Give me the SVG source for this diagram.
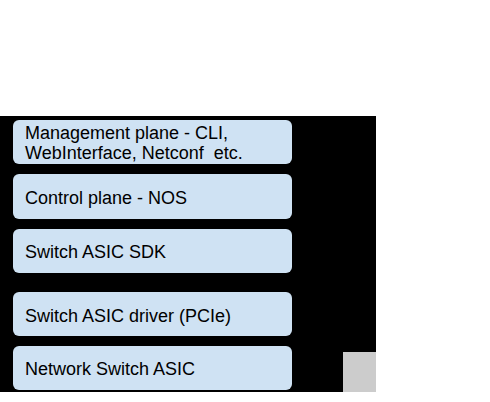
<svg xmlns="http://www.w3.org/2000/svg" width="490" height="402" viewBox="0 0 490 402">
<style>
.box{fill:#cfe2f3;}
.t{font-family:"Liberation Sans",Arial,sans-serif;font-size:18px;fill:#000;white-space:pre;}
</style>
<rect x="0" y="0" width="490" height="402" fill="#ffffff"/>
<rect x="0" y="116" width="376" height="276" fill="#000000"/>
<rect x="343" y="352" width="33" height="40" fill="#cccccc"/>
<g id="mgmt"><rect class="box" x="13" y="120" width="279" height="44" rx="6"/><text class="t" x="25" y="139">Management plane - CLI,</text><text class="t" x="25" y="159" xml:space="preserve">WebInterface, Netconf&#160; etc.</text></g>
<g id="control"><rect class="box" x="13" y="174" width="279" height="45" rx="6"/><text class="t" x="25" y="203.5">Control plane - NOS</text></g>
<g id="sdk"><rect class="box" x="13" y="229" width="279" height="44" rx="6"/><text class="t" x="25" y="257.5">Switch ASIC SDK</text></g>
<g id="driver"><rect class="box" x="13" y="292" width="279" height="44" rx="6"/><text class="t" x="25" y="321.5">Switch ASIC driver (PCIe)</text></g>
<g id="asic"><rect class="box" x="13" y="346" width="279" height="44" rx="6"/><text class="t" x="25" y="375">Network Switch ASIC</text></g>
<g id="connectors"></g>
</svg>
